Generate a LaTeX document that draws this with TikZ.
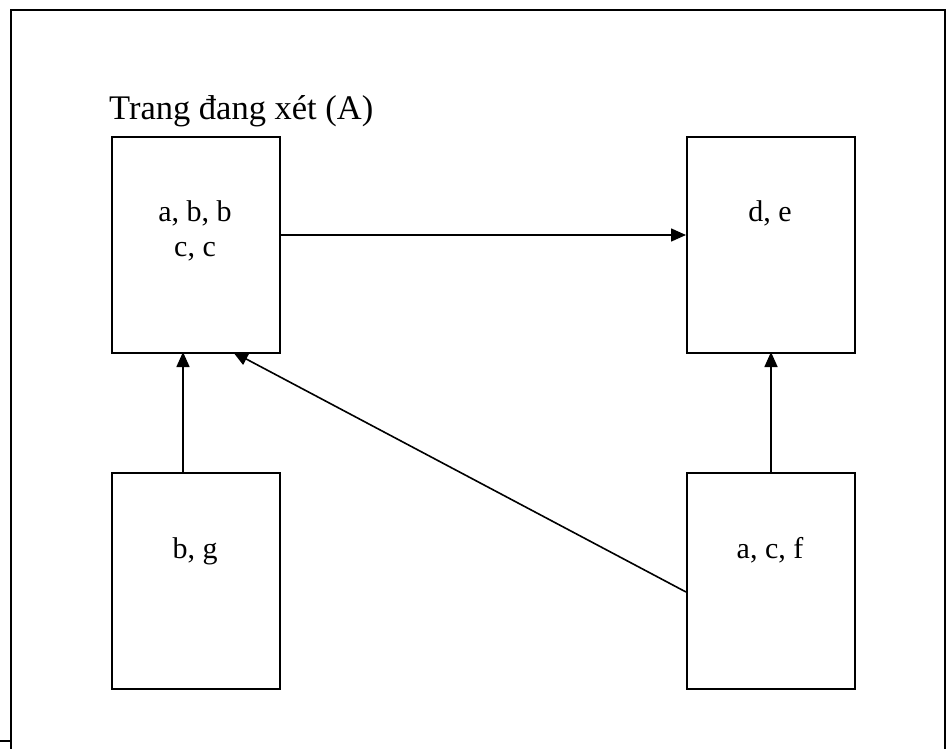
\documentclass[tikz,border=0pt]{standalone}
\usepackage{fontspec}
\setmainfont{Liberation Serif}
\usetikzlibrary{arrows.meta}
\begin{document}
\begin{tikzpicture}[x=1pt,y=-1pt,
  page/.style={draw=black,line width=2.2pt,minimum width=168pt,minimum height=216pt,anchor=north west,inner sep=0pt},
  lbl/.style={font=\fontsize{30}{35}\selectfont,align=center,inner sep=0pt,anchor=base},
  link/.style={line width=1.6pt,-{Triangle[length=15pt,width=13pt]}}]
\useasboundingbox (0,0) rectangle (948,749);
\clip (0,0) rectangle (948,749);
% outer frame, running off the bottom edge
\draw[line width=2.6pt] (11,770) -- (11,10) -- (945,10) -- (945,770);
\coordinate (tickL) at (0,741);
\coordinate (tickR) at (11,741);
\draw[line width=2pt] (tickL) -- (tickR);
% pages
\node[page] (A) at (111,136) {};
\node[page] (B) at (686,136) {};
\node[page] (C) at (111,472) {};
\node[page] (D) at (686,472) {};
\node[lbl,font=\fontsize{34.5}{34.5}\selectfont,anchor=base west] (title) at (109,120) {Trang đang xét (A)};
\node[lbl] (tA) at (195,256) {a, b, b\\c, c};
\node[lbl] (tB) at (770,221) {d, e};
\node[lbl] (tC) at (195,558) {b, g};
\node[lbl] (tD) at (770,558) {a, c, f};
% links
\coordinate (Aright) at (A.north east |- 0,235);
\coordinate (Bleft) at (B.north west |- 0,235);
\draw[link] (Aright) -- (Bleft);
\coordinate (Ctop) at (183,472);
\coordinate (Abot) at (183,352);
\draw[link] (Ctop) -- (Abot);
\coordinate (Dtop) at (771,472);
\coordinate (Bbot) at (771,352);
\draw[link] (Dtop) -- (Bbot);
\coordinate (Dleft) at (686,592);
\coordinate (Adiag) at (233,352);
\draw[link] (Dleft) -- (Adiag);
\end{tikzpicture}
\end{document}
